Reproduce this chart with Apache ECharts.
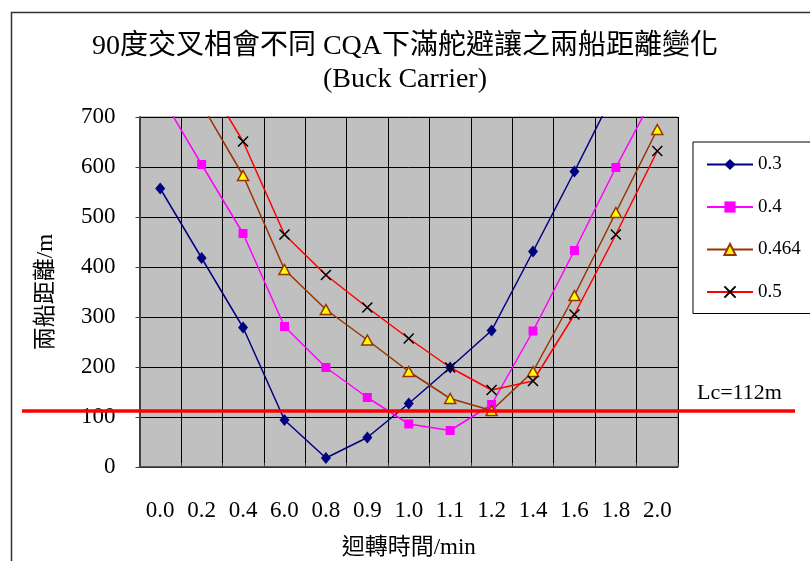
<!DOCTYPE html>
<html>
<head>
<meta charset="utf-8">
<script src="https://cdn.jsdelivr.net/npm/echarts@6/dist/echarts.min.js"></script>
<style>
html, body { margin: 0; padding: 0; background: #fff; }
#chart { width: 810px; height: 561px; }
</style>
</head>
<body>
<div id="chart"></div>
<script>
// Turning time categories (min)
const categories = ['0.0', '0.2', '0.4', '6.0', '0.8', '0.9', '1.0', '1.1', '1.2', '1.4', '1.6', '1.8', '2.0'];

// Distance between the two ships (m) for each CQA
const seriesNames = ['0.3', '0.4', '0.464', '0.5'];
const cqa03  = [557, 418, 279, 94, 18, 59, 127, 199, 273, 431, 591, 756, 910];
const cqa04  = [745, 605, 467, 281, 199, 139, 86, 73, 125, 272, 433, 599, 755];
const cqa464 = [870, 725, 583, 395, 315, 254, 191, 137, 113, 191, 343, 509, 675];
const cqa05  = [950, 789, 651, 465, 384, 319, 257, 199, 154, 172, 305, 465, 632];

// Critical distance
const lcValue = 112;
const lcLabel = 'Lc=112m';

const yTicks = [0, 100, 200, 300, 400, 500, 600, 700];

const serif = '"Liberation Serif", "Times New Roman", "Noto Sans CJK TC", serif';

const chart = echarts.init(document.getElementById('chart'), null, { renderer: 'canvas' });

const xMark = 'path://M0,0L10,10M0,10L10,0';

const option = {
  animation: false,
  backgroundColor: '#ffffff',
  title: {
    text: '90度交叉相會不同 CQA下滿舵避讓之兩船距離變化\n(Buck Carrier)',
    left: 'center',
    top: 25,
    textStyle: {
      fontFamily: serif,
      fontSize: 28,
      fontWeight: 'normal',
      color: '#000',
      lineHeight: 33
    }
  },
  legend: {
    orient: 'vertical',
    left: 693,
    top: 142,
    padding: [13, 14, 12, 13],
    itemWidth: 46,
    itemHeight: 14,
    itemGap: 23.5,
    borderColor: '#000',
    borderWidth: 1,
    backgroundColor: '#fff',
    textStyle: { fontFamily: serif, fontSize: 19, color: '#000' },
    data: seriesNames
  },
  grid: {
    left: 139.5,
    right: 132,
    top: 117,
    bottom: 94,
    outerBoundsMode: 'none',
    containLabel: false,
    show: true,
    backgroundColor: '#C0C0C0',
    borderColor: '#808080',
    borderWidth: 1
  },
  xAxis: {
    type: 'category',
    data: categories,
    boundaryGap: true,
    name: '迴轉時間/min',
    nameLocation: 'middle',
    nameGap: 69,
    nameTextStyle: { fontFamily: serif, fontSize: 23, color: '#000' },
    axisLine: { lineStyle: { color: '#404040', width: 1.5 } },
    axisTick: { show: true, inside: true, length: 4, lineStyle: { color: '#404040' } },
    axisLabel: { fontFamily: serif, fontSize: 23, color: '#000', margin: 32, interval: 0 },
    splitLine: { show: true, lineStyle: { color: '#000', width: 1 } }
  },
  yAxis: {
    type: 'value',
    min: yTicks[0],
    max: yTicks[yTicks.length - 1],
    interval: 100,
    name: '兩船距離/m',
    nameLocation: 'middle',
    nameGap: 82,
    nameRotate: 90,
    nameTextStyle: { fontFamily: serif, fontSize: 23, color: '#000' },
    axisLine: { show: true, lineStyle: { color: '#404040', width: 2 } },
    axisTick: { show: true, length: 4, lineStyle: { color: '#404040' } },
    axisLabel: { fontFamily: serif, fontSize: 23, color: '#000', margin: 24 },
    splitLine: { show: true, lineStyle: { color: '#000', width: 1 } }
  },
  series: [
    {
      name: seriesNames[0], type: 'line', data: cqa03, clip: true,
      symbol: 'diamond', symbolSize: [10, 12],
      lineStyle: { color: '#000080', width: 1.5 },
      itemStyle: { color: '#000080' }
    },
    {
      name: seriesNames[1], type: 'line', data: cqa04, clip: true,
      symbol: 'rect', symbolSize: 9,
      lineStyle: { color: '#FF00FF', width: 1.5 },
      itemStyle: { color: '#FF00FF' }
    },
    {
      name: seriesNames[2], type: 'line', data: cqa464, clip: true,
      symbol: 'triangle', symbolSize: [11, 10],
      lineStyle: { color: '#993300', width: 1.5 },
      itemStyle: { color: '#FFFF00', borderColor: '#993300', borderWidth: 1.5 }
    },
    {
      name: seriesNames[3], type: 'line', data: cqa05, clip: true,
      symbol: xMark, symbolSize: 10,
      lineStyle: { color: '#FF0000', width: 1.5 },
      itemStyle: { color: 'rgba(0,0,0,0)', borderColor: '#000', borderWidth: 1.5 }
    }
  ]
};

chart.setOption(option);

// Critical distance line across the whole chart, placed through the value axis
const lcY = chart.convertToPixel({ yAxisIndex: 0 }, lcValue);
chart.setOption({
  graphic: [
    {
      type: 'rect',
      left: 9, top: 10,
      shape: { x: 0, y: 0, width: 900, height: 700 },
      style: { fill: 'none', stroke: '#333', lineWidth: 1.5 },
      silent: true, z: 0
    },
    {
      type: 'line',
      shape: { x1: 22, y1: lcY, x2: 795, y2: lcY },
      style: { stroke: '#FF0000', lineWidth: 3.5 },
      z: 100
    },
    {
      type: 'text',
      x: 697, y: lcY - 7,
      style: {
        text: lcLabel,
        font: '22px ' + serif,
        fill: '#000',
        textVerticalAlign: 'bottom'
      },
      z: 100
    }
  ]
});
</script>
</body>
</html>
